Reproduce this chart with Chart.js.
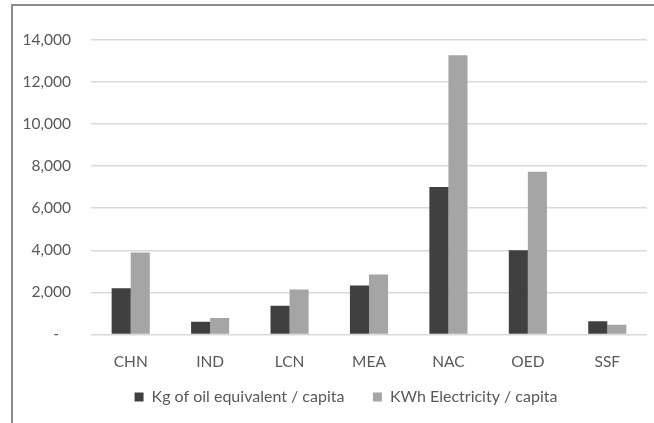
<!DOCTYPE html>
<html>
<head>
<meta charset="utf-8">
<script src="https://cdn.jsdelivr.net/npm/chart.js@4/dist/chart.umd.min.js"></script>
<style>
  html, body { margin: 0; padding: 0; background: #fff; }
  #wrap { position: relative; width: 654px; height: 423px; overflow: hidden; }
  #frame { position: absolute; left: 11px; top: 4px; width: 700px; height: 500px;
           border: 2px solid #8c8c8c; box-sizing: border-box; pointer-events: none; }
  canvas { position: absolute; left: 0; top: 0; }
</style>
</head>
<body>
<div id="wrap">
  <canvas id="c" width="654" height="423"></canvas>
  <div id="frame"></div>
</div>
<script>
// Regions and per-capita energy figures
const regions = ['CHN', 'IND', 'LCN', 'MEA', 'NAC', 'OED', 'SSF'];
const oilPerCapita = [2190, 605, 1365, 2330, 7010, 4000, 630];
const electricityPerCapita = [3890, 775, 2140, 2850, 13280, 7740, 460];
const seriesNames = ['Kg of oil equivalent / capita', 'KWh Electricity / capita'];
const yTicks = [0, 2000, 4000, 6000, 8000, 10000, 12000, 14000];

const textColor = '#595959';
const fontFamily = 'Lato, "Open Sans", sans-serif';
const legendGap = '     ';

// Nudge the legend so it centres under the plot area rather than the whole canvas
const legendShift = {
  id: 'legendShift',
  afterLayout(chart) {
    if (chart.legend) chart.legend.left += 45;
  }
};

new Chart(document.getElementById('c'), {
  type: 'bar',
  data: {
    labels: regions,
    datasets: [
      { label: seriesNames[0], data: oilPerCapita, backgroundColor: '#404040' },
      { label: seriesNames[1], data: electricityPerCapita, backgroundColor: '#a5a5a5' }
    ]
  },
  plugins: [legendShift],
  options: {
    responsive: false,
    animation: false,
    devicePixelRatio: 1,
    layout: { padding: { top: 40, right: 7, bottom: 8, left: 0 } },
    datasets: { bar: { categoryPercentage: 0.48, barPercentage: 1.0 } },
    plugins: {
      tooltip: { enabled: false },
      legend: {
        position: 'bottom',
        labels: {
          color: textColor,
          font: { family: fontFamily, size: 16 },
          boxWidth: 9,
          boxHeight: 9,
          padding: 8,
          generateLabels: (chart) => {
            const items = Chart.defaults.plugins.legend.labels.generateLabels(chart);
            items[0].text = items[0].text + legendGap;
            return items;
          }
        }
      }
    },
    scales: {
      x: {
        grid: { display: false },
        border: { display: false },
        ticks: { color: textColor, font: { family: fontFamily, size: 15.5 }, padding: 10 }
      },
      y: {
        min: 0,
        max: 14000,
        afterFit: (scale) => { scale.width = 91; },
        afterBuildTicks: (scale) => { scale.ticks = yTicks.map(v => ({ value: v })); },
        grid: { color: '#d9d9d9', lineWidth: 1.5, drawTicks: false },
        border: { display: false },
        ticks: {
          color: textColor,
          font: { family: fontFamily, size: 15.5 },
          padding: 20,
          callback: (v) => v === 0 ? '-   ' : v.toLocaleString('en-US')
        }
      }
    }
  }
});
</script>
</body>
</html>
